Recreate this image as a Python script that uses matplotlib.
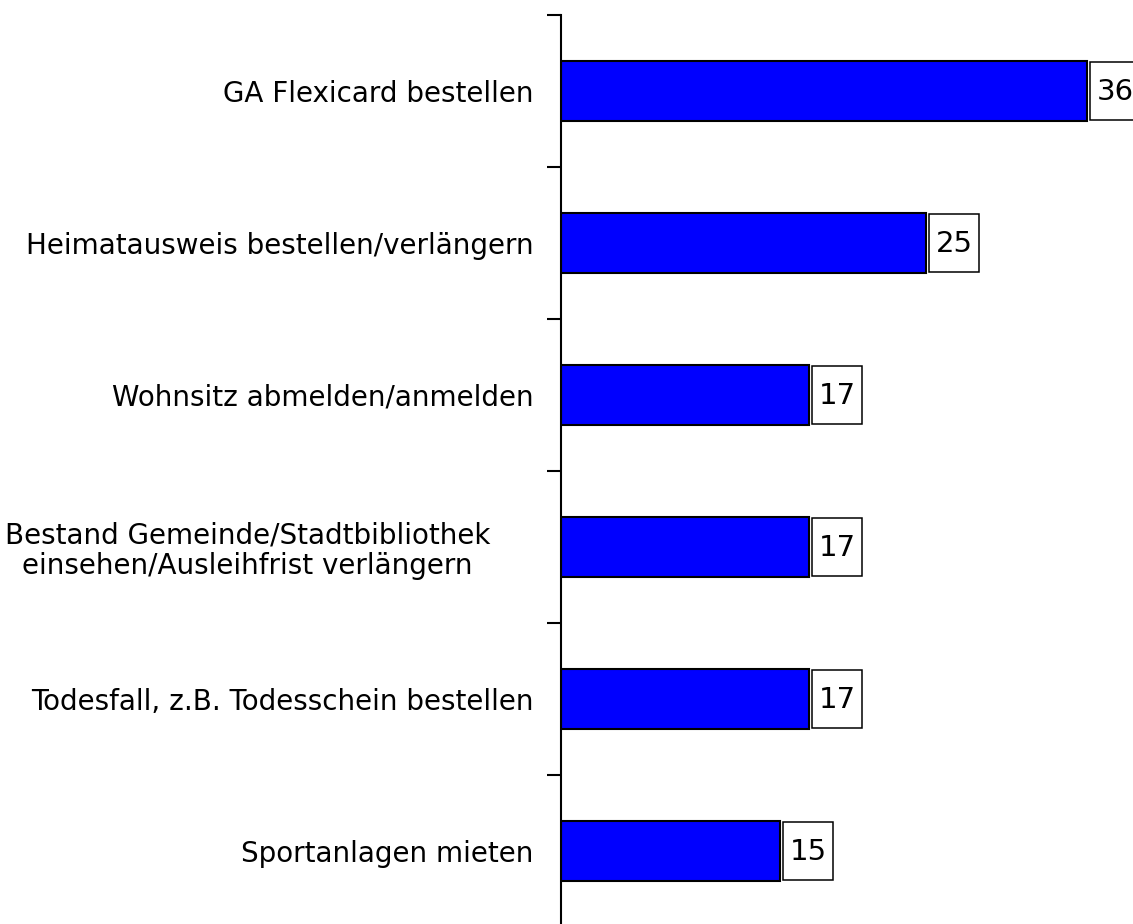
import numpy as np
import matplotlib.pyplot as plt
import matplotlib.transforms as mtransforms

# Daten
kategorien = [
    'GA Flexicard bestellen',
    'Heimatausweis bestellen/verlängern',
    'Wohnsitz abmelden/anmelden',
    'Bestand Gemeinde/Stadtbibliothek\neinsehen/Ausleihfrist verlängern',
    'Todesfall, z.B. Todesschein bestellen',
    'Sportanlagen mieten',
]
werte = [36, 25, 17, 17, 17, 15]

fig = plt.figure(figsize=(11.33, 9.24), dpi=100)
ax = fig.add_axes([0.4951, -0.0032, 0.5049, 0.987])

y = np.arange(len(kategorien))
ax.barh(y, werte, height=0.4, color='#0000FF', edgecolor='black', linewidth=1.5)

# Wert-Boxen rechts vom Balken
px = 14.61  # Pixel pro Einheit
gap = 3 / px
box_w = 50 / px
ax.barh(y, box_w, left=np.array(werte) + gap, height=0.385,
        color='white', edgecolor='black', linewidth=1.1, clip_on=False)
for yi, v in zip(y, werte):
    ax.text(v + gap + box_w / 2, yi + 0.01, str(v), ha='center', va='center',
            fontsize=21, color='black', clip_on=False)

ax.set_xlim(0, (1133 - 561) / px)
ax.set_ylim(len(kategorien) - 0.5, -0.5)

ax.set_yticks(np.arange(len(kategorien) + 1) - 0.5, minor=False)
ax.set_yticklabels([])
ax.set_yticks(y, minor=True)
ax.set_yticklabels(kategorien, minor=True, fontsize=20, multialignment='center',
                   linespacing=1.1)
ax.tick_params(axis='y', which='major', length=10, width=1.5, direction='out')
ax.tick_params(axis='y', which='minor', length=0, pad=20)

# mehrzeiliges Label etwas nach links schieben
lbl = ax.get_yticklabels(minor=True)[3]
lbl.set_transform(lbl.get_transform() + mtransforms.ScaledTranslation(-43 / 100, 0, fig.dpi_scale_trans))

ax.set_xticks([])
for s in ['top', 'right', 'bottom']:
    ax.spines[s].set_visible(False)
ax.spines['left'].set_linewidth(1.5)

fig.savefig('out.png', dpi=100)
